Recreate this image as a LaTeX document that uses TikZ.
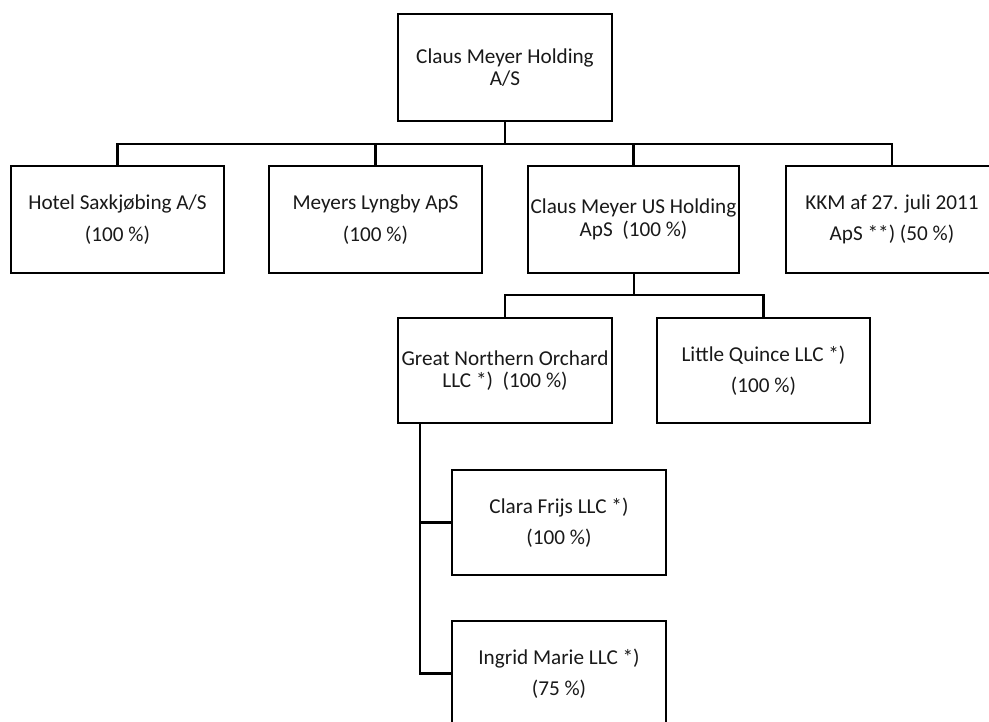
\documentclass[tikz,border=0pt]{standalone}
\usepackage{fontspec}
\setmainfont{Carlito}
\begin{document}
\begin{tikzpicture}[x=1pt,y=-1pt,
  box/.style={draw=black,line width=2.9pt,fill=white,rectangle,inner sep=0pt,
    minimum width=213pt,minimum height=107pt,align=center,text=black!90},
  tight/.style={font=\fontsize{21.2}{22.5}\selectfont},
  loose/.style={font=\fontsize{21.2}{31.5}\selectfont},
  conn/.style={draw=black,line width=2.9pt}]
\useasboundingbox (0,0) rectangle (989,722);
\clip (0,0) rectangle (989,722);
\fill[white] (0,0) rectangle (989,722);
% nodes
\node[box,tight,minimum width=214pt] (top) at (505,67.5) {Claus Meyer Holding\\A/S};
\node[box,loose] (hotel) at (117.5,219.5) {Hotel Saxkjøbing A/S\\(100 \%)};
\node[box,loose] (meyers) at (375.5,219.5) {Meyers Lyngby ApS\\(100 \%)};
\node[box,tight,minimum width=211pt] (us) at (633.5,219.5) {Claus Meyer US Holding\\ApS\ \ (100 \%)};
\node[box,loose,minimum width=212pt] (kkm) at (892,219.5) {KKM af 27. juli 2011\\ApS **) (50 \%)};
\node[box,tight,minimum width=214pt,minimum height=105pt] (gno) at (505,370.5) {Great Northern Orchard\\LLC *)\ \ (100 \%)};
\node[box,loose,minimum height=105pt] (lq) at (763.5,370.5) {Little Quince LLC *)\\(100 \%)};
\node[box,loose,minimum width=214pt,minimum height=105pt] (clara) at (559,522.5) {Clara Frijs LLC *)\\(100 \%)};
\node[box,loose,minimum width=214pt,minimum height=105pt] (ingrid) at (559,673.5) {Ingrid Marie LLC *)\\(75 \%)};
% connectors
\coordinate (b1) at (505,144);
\coordinate (b2) at (634,295);
\coordinate (g) at (420,423);
\draw[conn] (top.south) -- (b1);
\draw[conn] (hotel.north) |- (kkm.north |- b1) -- (kkm.north);
\draw[conn] (meyers.north) -- (meyers.north |- b1);
\draw[conn] (us.north) -- (us.north |- b1);
\draw[conn] (us.south -| b2) -- (b2);
\draw[conn] (gno.north) |- (lq.north |- b2) -- (lq.north);
\draw[conn] (g |- gno.south) |- (ingrid.west);
\draw[conn] (clara.west) -- (clara.west -| g);
\end{tikzpicture}
\end{document}
